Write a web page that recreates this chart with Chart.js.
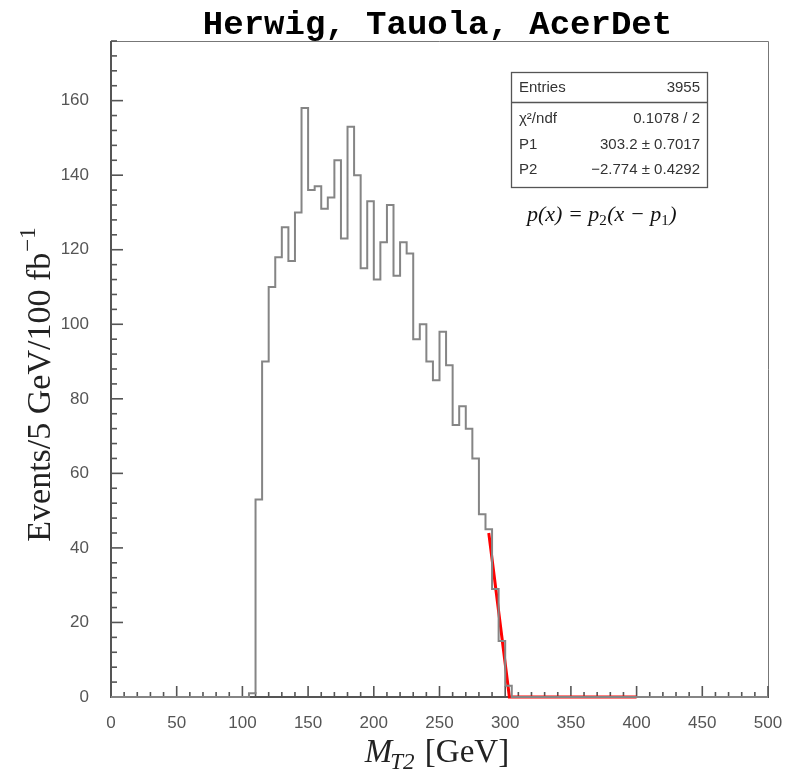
<!DOCTYPE html>
<html>
<head>
<meta charset="utf-8">
<script src="https://cdn.jsdelivr.net/npm/chart.js@4.4.1/dist/chart.umd.min.js"></script>
<style>
  html, body { margin:0; padding:0; background:#fff; }
  #wrap { width:797px; height:775px; }
</style>
</head>
<body>
<div id="wrap"><canvas id="mt2Chart" width="797" height="775"></canvas></div>
<script>
// =========================
// DATA
// =========================

// lower edges of the 5 GeV bins (M_T2, GeV)
const binLow = [
  105,110,115,120,125,130,135,140,145,150,
  155,160,165,170,175,180,185,190,195,200,
  205,210,215,220,225,230,235,240,245,250,
  255,260,265,270,275,280,285,290,295,300
];

// events per bin
const binCounts = [
  1,53,90,110,118,126,117,130,158,136,
  137,131,134,144,123,153,140,115,133,112,
  122,132,113,122,119,96,100,90,85,98,
  89,73,78,72,64,49,45,29,15,3
];

// red fit line p(x) = p2 (x - p1), as drawn
const fitX = [287.5, 303.2, 400];
const fitY = [44, 0, 0];

const xTicks = [0,50,100,150,200,250,300,350,400,450,500];
const yTicks = [0,20,40,60,80,100,120,140,160];

const statsRows = [
  ["χ²/ndf", "0.1078 / 2"],
  ["P1", "303.2 ± 0.7017"],
  ["P2", "−2.774 ± 0.4292"]
];

// =========================
// BUILD
// =========================

// step outline: each point carries the value of the bin that ends at it
const histPoints = [{x:0, y:0}];
binLow.forEach((x, i) => histPoints.push({x:x + 5, y:binCounts[i]}));
histPoints.splice(1, 0, {x:binLow[0], y:0});
histPoints.push({x:500, y:0});

const fitPoints = fitX.map((x, i) => ({x:x, y:fitY[i]}));

// frame + inward ticks like ROOT
const frameTicks = {
  id:"frameTicks",
  beforeDatasetsDraw(chart){
    const c = chart.ctx, a = chart.chartArea;
    const xs = chart.scales.x, ys = chart.scales.y;
    c.save();
    c.strokeStyle = "#777";
    c.lineWidth = 1;
    c.beginPath();
    c.moveTo(a.left, a.top + 0.5);
    c.lineTo(a.right + 0.5, a.top + 0.5);
    c.lineTo(a.right + 0.5, a.bottom);
    c.stroke();

    c.strokeStyle = "#555";
    c.lineWidth = 1.6;
    for (let v = 0; v <= 500; v += 10) {
      const px = xs.getPixelForValue(v);
      const len = v % 50 === 0 ? 11 : 5;
      c.beginPath();
      c.moveTo(px, a.bottom);
      c.lineTo(px, a.bottom - len);
      c.stroke();
    }
    for (let v = 0; v <= 176; v += 4) {
      const py = ys.getPixelForValue(v);
      const len = v % 20 === 0 ? 12 : 6;
      c.beginPath();
      c.moveTo(a.left, py);
      c.lineTo(a.left + len, py);
      c.stroke();
    }
    c.lineWidth = 2;
    c.beginPath();
    c.moveTo(a.left, a.top);
    c.lineTo(a.left, a.bottom);
    c.lineTo(a.right + 1, a.bottom);
    c.stroke();
    c.restore();
  }
};

// titles, stats box, formula
const annotations = {
  id:"annotations",
  afterDraw(chart){
    const c = chart.ctx, a = chart.chartArea;
    c.save();

    // title
    c.fillStyle = "#000";
    c.font = "bold 34px 'Liberation Mono', monospace";
    c.textAlign = "center";
    c.textBaseline = "alphabetic";
    c.fillText("Herwig, Tauola, AcerDet", (a.left + a.right) / 2 - 2, 34);

    // x title: M_T2 [GeV]
    c.fillStyle = "#222";
    c.textAlign = "left";
    const mFont = "italic 33px 'Liberation Serif', serif";
    const subFont = "italic 23px 'Liberation Serif', serif";
    const rFont = "33px 'Liberation Serif', serif";
    c.font = mFont;  const wM = c.measureText("M").width;
    c.font = subFont; const wS = c.measureText("T2").width;
    c.font = rFont;  const wR = c.measureText(" [GeV]").width;
    let x0 = 437 - (wM + wS + wR) / 2;
    const base = 762;
    c.font = mFont;  c.fillText("M", x0, base);
    c.font = subFont; c.fillText("T2", x0 + wM - 2, base + 7);
    c.font = rFont;  c.fillText(" [GeV]", x0 + wM + wS, base);

    // y title
    c.save();
    c.translate(50, 385);
    c.rotate(-Math.PI / 2);
    c.font = "34px 'Liberation Serif', serif";
    const mainY = "Events/5 GeV/100 fb";
    const wMain = c.measureText(mainY).width;
    c.font = "23px 'Liberation Serif', serif";
    const wSup = c.measureText("−1").width;
    const sx = -(wMain + wSup) / 2;
    c.font = "34px 'Liberation Serif', serif";
    c.fillText(mainY, sx, 0);
    c.font = "23px 'Liberation Serif', serif";
    c.fillText("−1", sx + wMain + 1, -15);
    c.restore();

    // stats box
    const bx = 511, by = 72, bw = 196, bh = 115;
    c.fillStyle = "#fff";
    c.fillRect(bx, by, bw, bh);
    c.strokeStyle = "#555";
    c.lineWidth = 1.3;
    c.strokeRect(bx + 0.5, by + 0.5, bw, bh);
    c.beginPath();
    c.moveTo(bx, by + 30.5);
    c.lineTo(bx + bw, by + 30.5);
    c.stroke();

    c.fillStyle = "#333";
    c.font = "15px 'Liberation Sans', sans-serif";
    c.textBaseline = "middle";
    c.textAlign = "left";
    c.fillText("Entries", bx + 8, by + 16);
    c.textAlign = "right";
    c.fillText(String(binCounts.reduce((s, v) => s + v, 0)), bx + bw - 7, by + 16);
    const rowY = [by + 47, by + 73, by + 98];
    statsRows.forEach((r, i) => {
      c.textAlign = "left";
      c.fillText(r[0], bx + 8, rowY[i]);
      c.textAlign = "right";
      c.fillText(r[1], bx + bw - 7, rowY[i]);
    });

    // fit formula
    c.fillStyle = "#111";
    c.textAlign = "left";
    c.textBaseline = "alphabetic";
    c.font = "italic 22px 'Liberation Serif', serif";
    c.fillText("p(x) = p", 527, 221);
    let fw = c.measureText("p(x) = p").width;
    c.font = "15px 'Liberation Serif', serif";
    c.fillText("2", 527 + fw, 225);
    fw += 8;
    c.font = "italic 22px 'Liberation Serif', serif";
    c.fillText("(x − p", 527 + fw, 221);
    fw += c.measureText("(x − p").width;
    c.font = "15px 'Liberation Serif', serif";
    c.fillText("1", 527 + fw, 225);
    fw += 8;
    c.font = "italic 22px 'Liberation Serif', serif";
    c.fillText(")", 527 + fw, 221);

    c.restore();
  }
};

// =========================
// CHART
// =========================

new Chart(
document.getElementById("mt2Chart"),
{
    type:"line",

    data:{
        datasets:[
            {
                label:"M_T2",
                data:histPoints,
                stepped:"after",
                borderColor:"#858585",
                borderWidth:2,
                pointRadius:0,
                fill:false,
                clip:4
            },
            {
                label:"fit",
                data:fitPoints,
                borderColor:"#ff0000",
                borderWidth:3,
                pointRadius:0,
                fill:false,
                clip:4
            }
        ]
    },

    options:{
        responsive:false,
        animation:false,
        layout:{
            padding:{ left:0, right:29, top:41, bottom:0 }
        },
        plugins:{
            legend:{ display:false },
            tooltip:{ enabled:false }
        },
        scales:{
            x:{
                type:"linear",
                min:0,
                max:500,
                afterFit:s => { s.height = 78; },
                afterBuildTicks:s => { s.ticks = xTicks.map(v => ({value:v})); },
                grid:{ display:false },
                border:{ display:false },
                ticks:{
                    padding:8,
                    maxRotation:0,
                    color:"#555",
                    font:{ family:"'Liberation Sans', sans-serif", size:17 }
                }
            },
            y:{
                type:"linear",
                min:0,
                max:176,
                afterFit:s => { s.width = 111; },
                afterBuildTicks:s => { s.ticks = yTicks.map(v => ({value:v})); },
                grid:{ display:false },
                border:{ display:false },
                ticks:{
                    padding:14,
                    color:"#555",
                    font:{ family:"'Liberation Sans', sans-serif", size:17 }
                }
            }
        }
    },

    plugins:[frameTicks, annotations]
});
</script>
</body>
</html>
